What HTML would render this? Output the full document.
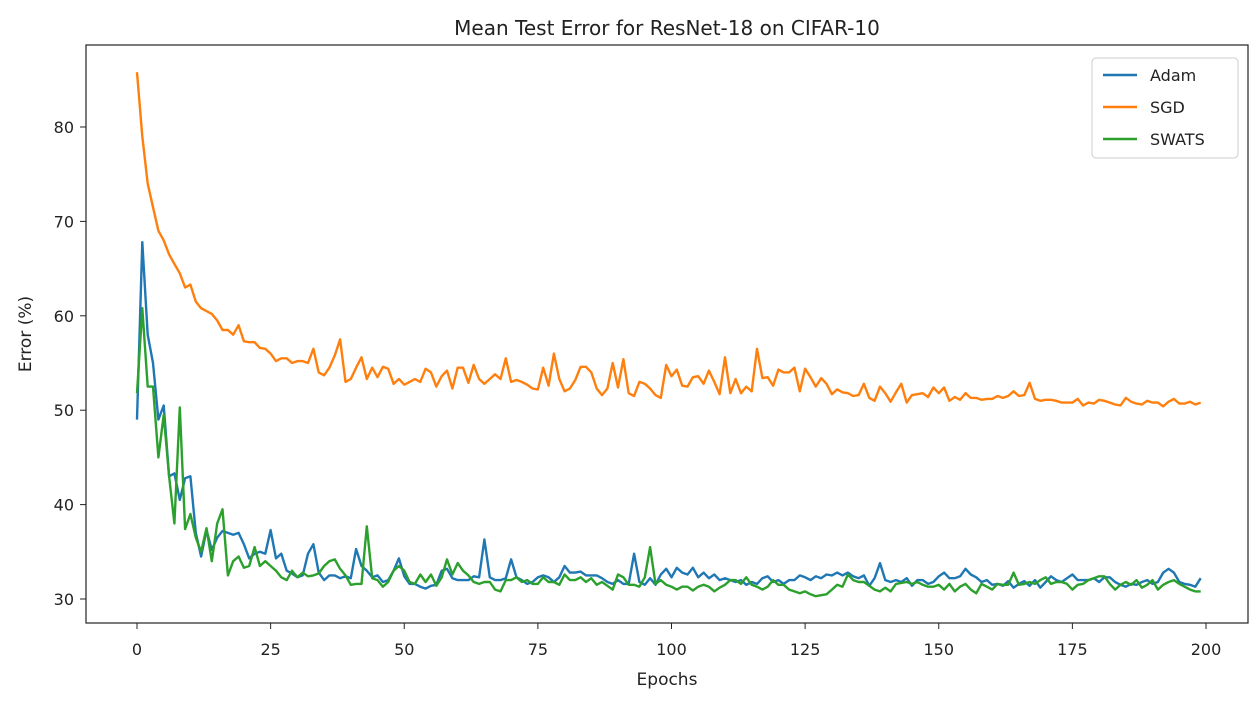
<!DOCTYPE html>
<html><head><meta charset="utf-8"><style>
body{margin:0;background:#fff;font-family:"Liberation Sans","DejaVu Sans",sans-serif;}
svg text{font-family:"DejaVu Sans","Liberation Sans",sans-serif;fill:#222;}
</style></head><body>
<svg id="chart" width="1258" height="702">
<text x="667" y="35" font-size="20" text-anchor="middle">Mean Test Error for ResNet-18 on CIFAR-10</text>
<rect x="86" y="45" width="1162" height="578" fill="none" stroke="#222" stroke-width="1.2"/>
<g id="xt"></g><g id="yt"></g><g id="lines"></g>
<text x="667" y="685" font-size="17" text-anchor="middle">Epochs</text>
<text transform="translate(31,334) rotate(-90)" font-size="17" text-anchor="middle">Error (%)</text>
<g>
<rect x="1092" y="58" width="146" height="100" rx="4" fill="#fff" stroke="#ccc"/>
<g><line x1="1103" y1="75" x2="1137" y2="75" stroke="#1f77b4" stroke-width="2.5"/><text x="1150" y="81" font-size="16">Adam</text></g>
<g><line x1="1103" y1="107" x2="1137" y2="107" stroke="#ff7f0e" stroke-width="2.5"/><text x="1150" y="113" font-size="16">SGD</text></g>
<g><line x1="1103" y1="139" x2="1137" y2="139" stroke="#2ca02c" stroke-width="2.5"/><text x="1150" y="145" font-size="16">SWATS</text></g>
</g>
</svg>
<script>
const xTicks=[0,25,50,75,100,125,150,175,200];
const yTicks=[30,40,50,60,70,80];
const adam=[49,67.8,58,55,49,50.5,43,43.3,40.5,42.8,43,37,34.5,37.3,35.2,36.5,37.2,37,36.8,37,35.8,34.3,34.8,35,34.8,37.3,34.3,34.8,33,32.7,32.3,32.5,34.8,35.8,32.8,32,32.5,32.5,32.2,32.4,32.2,35.3,33.5,33,32.3,32.5,31.8,32,33,34.3,32.4,31.6,31.6,31.3,31.1,31.4,31.5,33,33.2,32.2,32,32,32,32.4,32.3,36.3,32.3,32,32,32.2,34.2,32.3,32,31.6,31.8,32.3,32.5,32.3,31.8,32.3,33.5,32.8,32.8,32.9,32.5,32.5,32.5,32.2,31.8,31.6,32,31.6,31.6,34.8,31.8,31.5,32.2,31.5,32.6,33.2,32.3,33.3,32.8,32.6,33.3,32.3,32.8,32.2,32.6,32,32.2,32,31.8,32,31.5,31.8,31.6,32.2,32.4,31.8,32,31.6,32,32,32.5,32.3,32,32.4,32.2,32.6,32.5,32.8,32.5,32.8,32.4,32.2,32.5,31.4,32.2,33.8,32,31.8,32,31.8,32.2,31.4,32,32,31.6,31.8,32.4,32.8,32.2,32.2,32.4,33.2,32.6,32.3,31.8,32,31.5,31.6,31.4,31.9,31.2,31.6,31.9,31.4,32,31.2,31.8,32.4,32,31.8,32.2,32.6,32,32,32,32.2,31.8,32.3,32.3,31.8,31.5,31.3,31.6,31.5,31.8,32,31.6,31.8,32.8,33.2,32.8,31.8,31.6,31.5,31.3,32.2];
const sgd=[85.8,79,74,71.5,69,68,66.5,65.5,64.5,63,63.3,61.5,60.8,60.5,60.2,59.5,58.5,58.5,58,59,57.3,57.2,57.2,56.6,56.5,56,55.2,55.5,55.5,55,55.2,55.2,55,56.5,54,53.7,54.5,55.8,57.5,53,53.3,54.5,55.6,53.3,54.5,53.5,54.6,54.4,52.8,53.3,52.7,53,53.3,53,54.4,54,52.5,53.6,54.2,52.3,54.5,54.5,52.9,54.8,53.3,52.8,53.3,53.8,53.3,55.5,53,53.2,53,52.7,52.3,52.2,54.5,52.6,56,53.3,52,52.3,53.2,54.6,54.6,54,52.3,51.6,52.3,55,52.4,55.4,51.8,51.5,53,52.8,52.3,51.6,51.3,54.8,53.6,54.3,52.6,52.5,53.5,53.6,52.8,54.2,53,51.7,55.6,51.8,53.3,51.8,52.5,52,56.5,53.4,53.5,52.6,54.3,54,54,54.5,52,54.4,53.5,52.5,53.4,52.8,51.7,52.2,51.9,51.8,51.5,51.6,52.8,51.3,51,52.5,51.8,50.9,51.9,52.8,50.8,51.6,51.7,51.8,51.4,52.4,51.8,52.4,51,51.4,51.1,51.8,51.3,51.3,51.1,51.2,51.2,51.5,51.3,51.5,52,51.5,51.6,52.9,51.2,51,51.1,51.1,51,50.8,50.8,50.8,51.2,50.5,50.8,50.7,51.1,51,50.8,50.6,50.5,51.3,50.9,50.7,50.6,51,50.8,50.8,50.4,50.9,51.2,50.7,50.7,50.9,50.6,50.8];
const swats=[51.8,60.8,52.5,52.5,45,49.5,43,38,50.3,37.4,39,36.5,35,37.5,34,38,39.5,32.5,34,34.5,33.3,33.5,35.5,33.5,34,33.5,33,32.3,32,33,32.3,32.8,32.4,32.5,32.7,33.5,34,34.2,33.2,32.5,31.5,31.6,31.6,37.7,32.2,32,31.3,31.8,33,33.5,33,31.8,31.6,32.6,31.8,32.6,31.4,32.3,34.2,32.6,33.8,33,32.5,31.8,31.6,31.8,31.8,31,30.8,32,32,32.3,31.8,32,31.6,31.6,32.3,31.8,31.8,31.5,32.6,32,32,32.3,31.8,32.2,31.5,31.8,31.4,31,32.6,32.3,31.5,31.5,31.3,32.3,35.5,31.6,32,31.5,31.3,31,31.3,31.3,30.9,31.3,31.5,31.3,30.8,31.2,31.5,32,32,31.6,32.3,31.5,31.3,31,31.3,32,31.5,31.5,31,30.8,30.6,30.8,30.5,30.3,30.4,30.5,31,31.5,31.3,32.6,32,31.8,31.8,31.4,31,30.8,31.2,30.8,31.6,31.7,31.8,31.6,31.8,31.5,31.3,31.3,31.5,31,31.6,30.8,31.3,31.6,31,30.6,31.6,31.3,31,31.6,31.5,31.5,32.8,31.5,31.6,31.8,31.6,32,32.3,31.6,31.8,31.8,31.6,31,31.5,31.6,32,32.2,32.4,32.4,31.6,31,31.5,31.8,31.5,32,31.2,31.5,32,31,31.5,31.8,32,31.6,31.3,31,30.8,30.8];
const NS='http://www.w3.org/2000/svg';
function xs(v){return 137+(v-0)*(1206-137)/200;}
function ys(v){return 599-(v-30)*(599-127)/50;}
const xt=document.getElementById('xt'),yt=document.getElementById('yt'),lg=document.getElementById('lines');
xTicks.forEach(t=>{
 const l=document.createElementNS(NS,'line');l.setAttribute('x1',xs(t));l.setAttribute('x2',xs(t));l.setAttribute('y1',623);l.setAttribute('y2',629);l.setAttribute('stroke','#222');
 
 
 xt.appendChild(l);
 const tx=document.createElementNS(NS,'text');tx.setAttribute('x',xs(t));tx.setAttribute('y',655);tx.setAttribute('font-size','16');tx.setAttribute('text-anchor','middle');tx.textContent=t;
 
 
 xt.appendChild(tx);
});
yTicks.forEach(t=>{
 const l=document.createElementNS(NS,'line');l.setAttribute('x1',80);l.setAttribute('x2',86);l.setAttribute('y1',ys(t));l.setAttribute('y2',ys(t));l.setAttribute('stroke','#222');
 
 
 yt.appendChild(l);
 const tx=document.createElementNS(NS,'text');tx.setAttribute('x',74);tx.setAttribute('y',ys(t)+6);tx.setAttribute('font-size','16');tx.setAttribute('text-anchor','end');tx.textContent=t;
 
 
 yt.appendChild(tx);
});
[[adam,'#1f77b4','adam-line'],[sgd,'#ff7f0e','sgd-line'],[swats,'#2ca02c','swats-line']].forEach(s=>{
 const p=document.createElementNS(NS,'polyline');
 p.setAttribute('points',s[0].map((v,i)=>xs(i).toFixed(1)+','+ys(v).toFixed(1)).join(' '));
 p.setAttribute('fill','none');p.setAttribute('stroke',s[1]);p.setAttribute('stroke-width','2.4');p.setAttribute('stroke-linejoin','round');
 
 
 lg.appendChild(p);
});
</script>
</body></html>
